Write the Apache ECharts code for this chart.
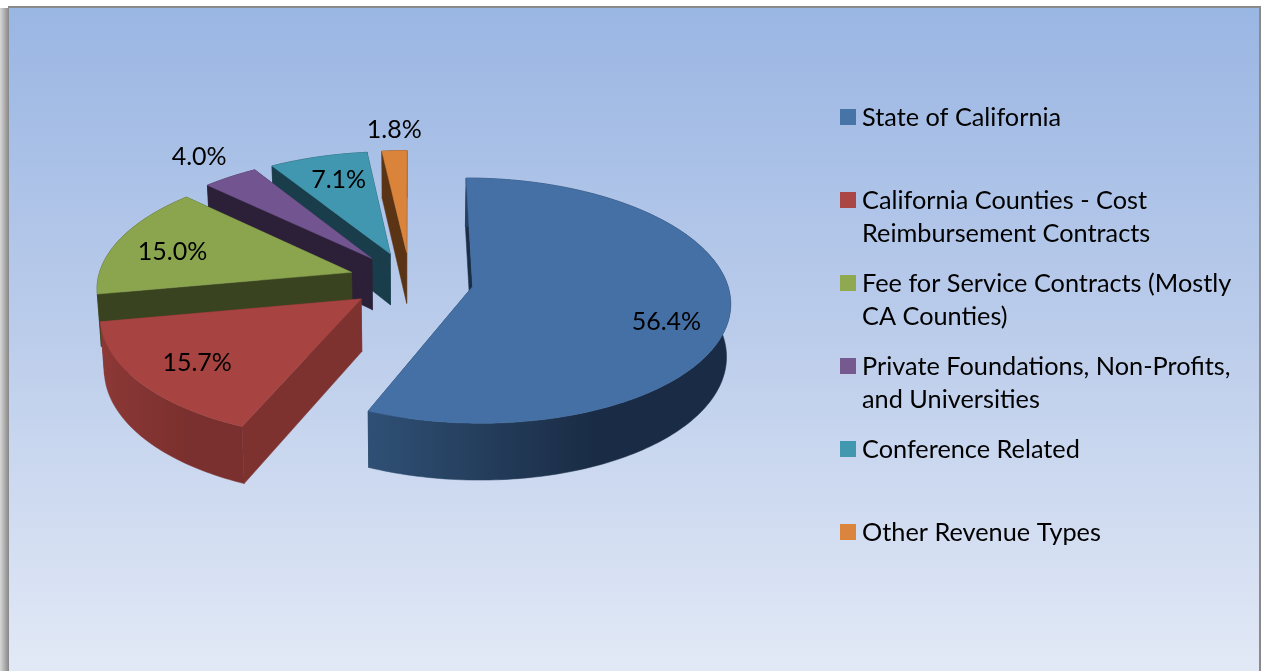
<!DOCTYPE html>
<html>
<head>
<meta charset="utf-8">
<title>Revenue by source</title>
<style>
  html, body { margin: 0; padding: 0; background: #fff; overflow: hidden; }
  #main { width: 1262px; height: 671px; }
</style>
<script src="https://cdn.jsdelivr.net/npm/echarts@6/dist/echarts.min.js"></script>
</head>
<body>
<div id="main"></div>
<script>
// data, clockwise from 12 o'clock
var categories = ['State of California', 'California Counties - Cost\nReimbursement Contracts', 'Fee for Service Contracts (Mostly\nCA Counties)', 'Private Foundations, Non-Profits,\nand Universities', 'Conference Related', 'Other Revenue Types'];
var shares = [56.4, 15.7, 15.0, 4.0, 7.1, 1.8];

// colours per slice
var topColors = ['#4570a5', '#a74442', '#8aa54e', '#725590', '#4197af', '#da833a'];
var legendColors = ['#4674a6', '#aa4644', '#8fa950', '#75598f', '#4198af', '#db843d'];
var sideColors = ['#1a2e48', '#7e3230', '#3a431f', '#2c2038', '#193d4a', '#5a3414'];
var rimLeft = ['#2f5075', '#8c3836', '#3a431f', '#2c2038', '#193d4a', '#5a3414'];
var rimRight = ['#1a2c45', '#7a302e', '#3a431f', '#2c2038', '#193d4a', '#5a3414'];

// how far each slice is pulled out (1 = rim)
var explode = [0.25, 0.242, 0.242, 0.242, 0.242, 0.242];
// label placement relative to the slice: turn from mid angle (deg), radius (1 = rim)
var labelTurn = [10, -1, -3, 0.5, 1, 0.5];
var labelRadius = [0.78, 0.764, 0.75, 1.26, 0.737, 1.23];

// the fake 3d pie
var pie = { cx: 410, cy: 280.5, rx: 254, ry: 119.6, persp: 0.1145, depth: 52, shrink: 0.987 };
var font = 'Lato, "Open Sans", sans-serif';

var total = shares.reduce(function (a, b) { return a + b; }, 0);

function project(X, u) {
  var s = 1 / (1 - pie.persp * u);
  return [pie.cx + pie.rx * X * s, pie.cy + pie.ry * u * s, s];
}
function lower(p) {
  return [pie.cx + (p[0] - pie.cx) * pie.shrink, p[1] + pie.depth * Math.pow(p[2], 0.7)];
}

function renderSlice(params, api) {
  var i = params.dataIndex;
  var before = 0;
  for (var n = 0; n < i; n++) before += shares[n];
  var a0 = before / total * Math.PI * 2;
  var a1 = (before + api.value(0)) / total * Math.PI * 2;
  var mid = (a0 + a1) / 2;
  var ox = Math.sin(mid) * explode[i];
  var oy = -Math.cos(mid) * explode[i];

  var apex = project(ox, oy);
  var arc = [];
  var steps = Math.max(2, Math.ceil((a1 - a0) / 0.02));
  for (var k = 0; k <= steps; k++) {
    var a = a0 + (a1 - a0) * k / steps;
    arc.push(project(ox + Math.sin(a), oy - Math.cos(a)));
  }
  var lowArc = arc.map(lower);
  var first = arc[0], last = arc[arc.length - 1];
  // later slices sit further back, the big blue one goes on top
  var z = (shares.length - i) * 10;
  var children = [];

  function poly(points, fill, zz) {
    children.push({
      type: 'polygon',
      z2: zz,
      shape: { points: points.map(function (p) { return [p[0], p[1]]; }) },
      style: { fill: fill, stroke: fill, lineWidth: 0.5 }
    });
  }
  // radial walls
  poly([apex, first, lower(first), lower(apex)], sideColors[i], z);
  poly([apex, last, lower(last), lower(apex)], sideColors[i], z);

  // rim wall, shaded left to right
  var xs = arc.map(function (p) { return p[0]; });
  var minX = Math.min.apply(null, xs), maxX = Math.max.apply(null, xs);
  var rimFill = new echarts.graphic.LinearGradient(0, 0, 1, 0, [
    { offset: 0, color: rimLeft[i] },
    { offset: 0.62, color: rimRight[i] },
    { offset: 1, color: rimRight[i] }
  ]);
  if (maxX - minX > 1) {
    poly(arc.concat(lowArc.slice().reverse()), rimFill, z + 1);
  }
  // top face
  poly([apex].concat(arc), topColors[i], z + 2);

  // percent label
  var la = mid + labelTurn[i] * Math.PI / 180;
  var lp = project(ox + Math.sin(la) * labelRadius[i], oy - Math.cos(la) * labelRadius[i]);
  children.push({
    type: 'text',
    z2: 200,
    style: {
      x: lp[0], y: lp[1],
      text: api.value(0).toFixed(1) + '%',
      fill: '#000',
      font: '25px ' + font,
      textAlign: 'center',
      textVerticalAlign: 'middle'
    }
  });
  return { type: 'group', children: children };
}

// frame + legend
var frame = [
  { type: 'rect', shape: { x: 0, y: 8, width: 8, height: 663 }, style: {
    fill: new echarts.graphic.LinearGradient(0, 0, 1, 0, [{ offset: 0, color: '#d8d8d8' }, { offset: 1, color: '#8f8f8f' }]) } },
  { type: 'rect', shape: { x: 8, y: 6, width: 1253, height: 665 }, style: { fill: '#8a8a8a' } },
  { type: 'rect', shape: { x: 9, y: 8, width: 1250, height: 663 }, style: {
    fill: new echarts.graphic.LinearGradient(0, 0, 0, 1, [
      { offset: 0, color: '#9ab6e3' },
      { offset: 0.5, color: '#bccdeb' },
      { offset: 1, color: '#e2e9f6' }
    ]) } }
];
var legendItems = [];
categories.forEach(function (name, i) {
  var y = 109 + i * 83;
  legendItems.push({ type: 'rect', shape: { x: 840, y: y, width: 16, height: 16 }, style: { fill: legendColors[i] } });
  legendItems.push({ type: 'text', style: { x: 862, y: y - 8, text: name, fill: '#000', font: '25.3px ' + font, lineHeight: 33 } });
});

var myChart = echarts.init(document.getElementById('main'), null, { renderer: 'canvas' });
myChart.setOption({
  animation: false,
  backgroundColor: '#fff',
  graphic: { elements: frame.concat(legendItems) },
  series: [{
    type: 'custom',
    name: 'Revenue',
    coordinateSystem: 'none',
    renderItem: renderSlice,
    silent: true,
    data: shares.map(function (v, i) { return { name: categories[i], value: [v] }; })
  }]
});
</script>
</body>
</html>
